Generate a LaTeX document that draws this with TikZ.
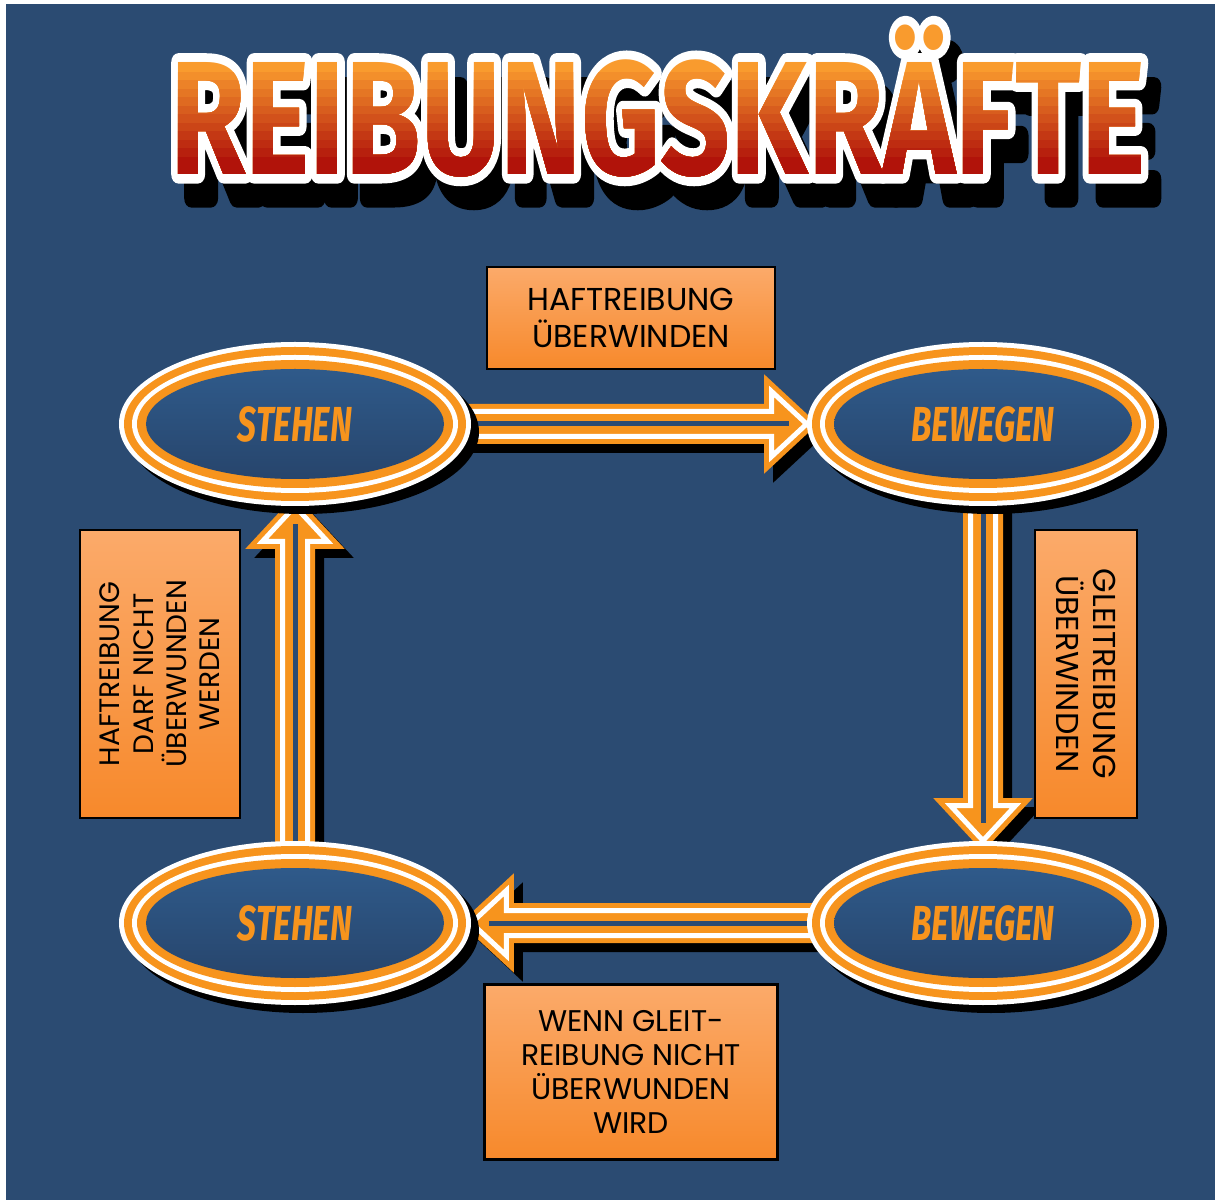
\documentclass[tikz,border=0pt]{standalone}
\usepackage{fontspec}
\newfontfamily\titlefont{Fira Sans}
\newfontfamily\statefont{Fira Sans}
\newfontfamily\notefont{Poppins}
\usetikzlibrary{shapes.geometric, calc, shadows}

\pgfdeclarelayer{background}
\pgfsetlayers{background,main}

\definecolor{bgblue}{HTML}{2B4B72}
\definecolor{ringorange}{HTML}{F7941D}
\definecolor{innerblue}{HTML}{2F5A8A}
\definecolor{innerdark}{HTML}{27456C}
\definecolor{boxlight}{HTML}{FBAA6A}
\definecolor{boxdark}{HTML}{F7892B}
\definecolor{titletop}{HTML}{F99B2E}
\definecolor{titlebot}{HTML}{B0120A}

\newcommand\titleword{\scalebox{0.87}[1.15]{REIBUNGSKRÄFTE}}
% text drawn as a thick stroked outline (fill + stroke)
\newcommand\strokedword[1]{\special{pdf:literal direct 2 Tr 9 w 1 j 1 J #1 RG}\titleword\special{pdf:literal direct 0 Tr 0 j 0 J}}

\tikzset{
    state/.style={ellipse, fill=white, minimum width=70.4mm, minimum height=32.8mm, inner sep=0pt,
        drop shadow={shadow xshift=1.6mm, shadow yshift=-1.6mm, opacity=1, fill=black},
        path picture={
            \fill[ringorange] (path picture bounding box.center) ellipse [x radius=34.2mm, y radius=15.4mm];
            \fill[white] (path picture bounding box.center) ellipse [x radius=32.6mm, y radius=13.8mm];
            \fill[ringorange] (path picture bounding box.center) ellipse [x radius=31.6mm, y radius=12.8mm];
            \shade[top color=innerblue, bottom color=innerdark] (path picture bounding box.center) ellipse [x radius=29.8mm, y radius=11mm];
        },
        text=ringorange, font=\statefont\bfseries\itshape\fontsize{28}{30}\selectfont},
    note/.style={rectangle, draw=black, line width=0.5mm, inner sep=0pt, align=center,
        top color=boxlight, bottom color=boxdark,
        font=\notefont\fontsize{18}{21}\selectfont},
    fatarrow/.style={
        preaction={fill=black, draw=black, line width=3mm, transform canvas={shift={(1.8mm,-1.8mm)}}},
        preaction={fill=ringorange, draw=ringorange, line width=3mm},
        draw=white, line width=1mm,
        to path={
            ($(\tikztostart)!2.5mm!90:(\tikztotarget)$)
            -- ($(\tikztotarget)!7mm!(\tikztostart)!2.5mm!-90:(\tikztostart)$)
            -- ($(\tikztotarget)!7mm!(\tikztostart)!6.5mm!-90:(\tikztostart)$)
            -- (\tikztotarget)
            -- ($(\tikztotarget)!7mm!(\tikztostart)!6.5mm!90:(\tikztostart)$)
            -- ($(\tikztotarget)!7mm!(\tikztostart)!2.5mm!90:(\tikztostart)$)
            -- ($(\tikztostart)!2.5mm!-90:(\tikztotarget)$)
            -- cycle
        }},
    midline/.style={draw=bgblue, line width=1mm, shorten >=3.6mm},
    titletext/.style={font=\titlefont\bfseries\fontsize{80}{82}\selectfont, inner sep=0pt},
}

\begin{document}
\begin{tikzpicture}[x=0.2mm, y=-0.2mm]
    \useasboundingbox (0,0) rectangle (1215,1200);
    \begin{pgfonlayer}{background}
        \fill[bgblue] (6,4) rectangle (1215,1200);
    \end{pgfonlayer}

    % title
    \coordinate (titlepos) at (658,101);
    \node[titletext, text=black] (tshadow) at ($(titlepos)+(13,24)$) {\strokedword{0 0 0}};
    \node[titletext, text=white] (toutline) at (titlepos) {\strokedword{1 1 1}};
    \foreach \i in {0,...,11} {
        \pgfmathsetmacro\p{\i*9}
        \begin{scope}
            \clip (150,{\i==0 ? 0 : 64+\i*8.5}) rectangle (1180,220);
            \node[titletext, text=titlebot!\p!titletop] (tband\i) at (titlepos) {\titleword};
        \end{scope}
    }

    % states
    \node[state] (stehen1) at (295,424) {\scalebox{0.68}[1]{STEHEN}};
    \node[state] (bewegen1) at (983,424) {\scalebox{0.68}[1]{BEWEGEN}};
    \node[state] (bewegen2) at (983,923) {\scalebox{0.68}[1]{BEWEGEN}};
    \node[state] (stehen2) at (295,923) {\scalebox{0.68}[1]{STEHEN}};

    % notes
    \node[note, minimum width=57.6mm, minimum height=20.4mm] (haftnote) at (631,318) {HAFTREIBUNG\\ÜBERWINDEN};
    \node[note, rotate=-90, minimum width=57.6mm, minimum height=20.4mm] (gleitnote) at (1086,674) {GLEITREIBUNG\\ÜBERWINDEN};
    \node[note, rotate=90, minimum width=57.6mm, minimum height=32mm, font=\notefont\fontsize{16}{19}\selectfont] (haltnote) at (160,674) {HAFTREIBUNG\\DARF NICHT\\ÜBERWUNDEN\\WERDEN};
    \node[note, minimum width=58.6mm, minimum height=35mm, font=\notefont\fontsize{17}{19.5}\selectfont] (stopnote) at (631,1072) {WENN GLEIT-\\REIBUNG NICHT\\ÜBERWUNDEN\\WIRD};

    % arrows
    \begin{pgfonlayer}{background}
        \draw[fatarrow] (stehen1.center) to (bewegen1.west);
        \draw[midline] (stehen1.center) -- (bewegen1.west);
        \draw[fatarrow] (bewegen1.center) to (bewegen2.north);
        \draw[midline] (bewegen1.center) -- (bewegen2.north);
        \draw[fatarrow] (bewegen2.center) to (stehen2.east);
        \draw[midline] (bewegen2.center) -- (stehen2.east);
        \draw[fatarrow] (stehen2.center) to (stehen1.south);
        \draw[midline] (stehen2.center) -- (stehen1.south);
    \end{pgfonlayer}
\end{tikzpicture}
\end{document}
